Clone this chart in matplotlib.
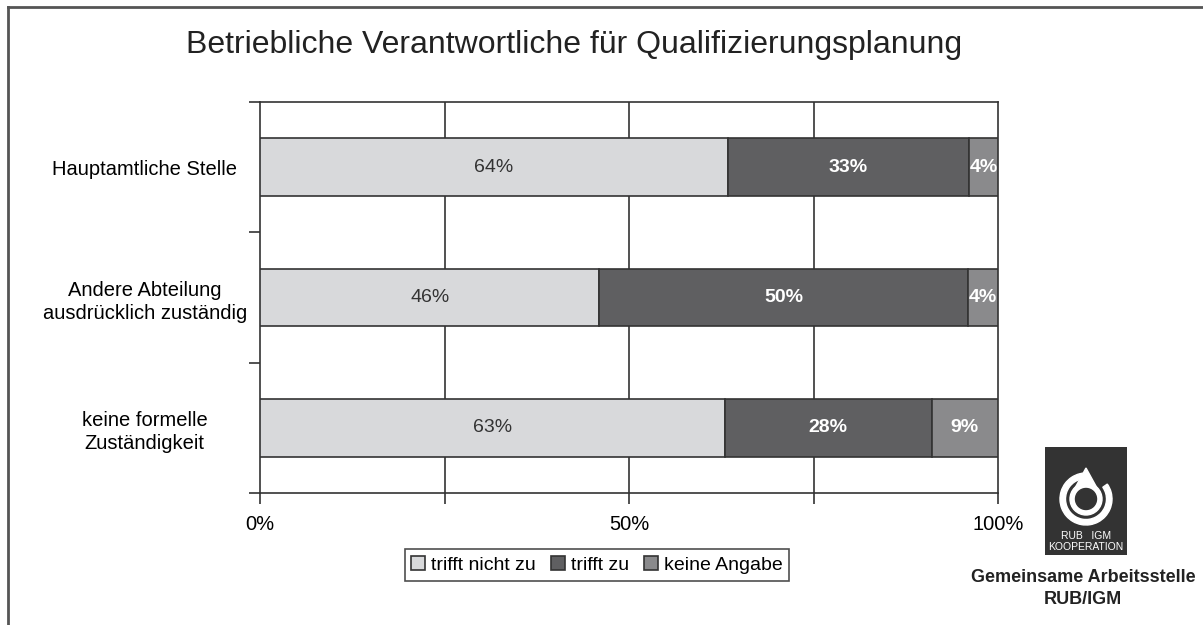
import matplotlib
matplotlib.use("Agg")
import matplotlib.pyplot as plt
from matplotlib import patches
from matplotlib.lines import Line2D
import numpy as np

plt.rcParams['font.family'] = ['Liberation Sans', 'DejaVu Sans']

# data (percent as labelled, bars are normalised to 100)
categories = ["Hauptamtliche Stelle", "Andere Abteilung\nausdrücklich zuständig", "keine formelle\nZuständigkeit"]
series_names = ["trifft nicht zu", "trifft zu", "keine Angabe"]
nicht_zu = [64, 46, 63]
trifft_zu = [33, 50, 28]
keine_angabe = [4, 4, 9]

colors = ["#d8d9db", "#5f5f61", "#8a8a8c"]
text_colors = ["#333333", "white", "white"]
text_weights = ["normal", "bold", "bold"]
edge = "#333333"

fig = plt.figure(figsize=(12.03, 6.25), dpi=100)
ax = fig.add_axes([260 / 1203, 1 - 493 / 625, 738 / 1203, 391 / 625])

data = np.array([nicht_zu, trifft_zu, keine_angabe], dtype=float)
frac = data / data.sum(axis=0)
ypos = np.arange(len(categories))

left = np.zeros(len(categories))
bars = []
for i, name in enumerate(series_names):
    b = ax.barh(ypos, frac[i], left=left, height=0.44, color=colors[i],
                edgecolor=edge, linewidth=1.2, label=name, zorder=3)
    bars.append(b)
    for j in range(len(categories)):
        ax.text(left[j] + frac[i][j] / 2, ypos[j], "%d%%" % data[i][j],
                ha="center", va="center", fontsize=14, color=text_colors[i],
                fontweight=text_weights[i], zorder=4)
    left = left + frac[i]

ax.set_xlim(0, 1)
ax.set_ylim(2.5, -0.5)

# grid at 25% steps
for g in [0.25, 0.5, 0.75]:
    ax.axvline(g, color=edge, lw=1.2, zorder=1)

ax.set_xticks([0, 0.25, 0.5, 0.75, 1.0])
ax.set_xticklabels(["0%", "", "50%", "", "100%"], fontsize=14.5)
ax.tick_params(axis="x", length=8, width=1.2, color=edge, pad=8)

ax.set_yticks(ypos)
ax.set_yticklabels(categories, fontsize=14.5)
for lbl in ax.get_yticklabels():
    lbl.set_ha("center")
    lbl.set_multialignment("center")
    lbl.set_linespacing(1.3)
ax.tick_params(axis="y", which="major", length=0, pad=83)
ax.set_yticks([-0.5, 0.5, 1.5, 2.5], minor=True)
ax.tick_params(axis="y", which="minor", length=8, width=1.2, color=edge)

for s in ax.spines.values():
    s.set_color(edge)
    s.set_linewidth(1.2)

fig.text(574.5 / 1203, 1 - 45 / 625, "Betriebliche Verantwortliche für Qualifizierungsplanung",
         ha="center", va="center", fontsize=23, color="#222222")

leg = fig.legend(handles=bars, labels=series_names, loc="center",
                 bbox_to_anchor=(597 / 1203, 1 - 565 / 625), ncol=3, fontsize=14,
                 frameon=True, fancybox=False, edgecolor="#222222",
                 handlelength=0.7, handleheight=0.7, handletextpad=0.3,
                 columnspacing=0.8, borderpad=0.35)
leg.get_frame().set_linewidth(1.2)

# outer frame (left and top)
fig.add_artist(Line2D([8 / 1203, 8 / 1203], [0, 1 - 7 / 625], transform=fig.transFigure, color="#555555", lw=2))
fig.add_artist(Line2D([8 / 1203, 1], [1 - 7 / 625, 1 - 7 / 625], transform=fig.transFigure, color="#555555", lw=2))

# logo
lax = fig.add_axes([1045 / 1203, 1 - 555 / 625, 82 / 1203, 108 / 625])
lax.set_xlim(0, 82)
lax.set_ylim(108, 0)
lax.axis("off")
lax.add_patch(patches.Rectangle((0, 0), 82, 108, color="#333333"))
cx, cy = 41, 52
lax.add_patch(patches.Wedge((cx, cy), 26, -35, 275, width=5.5, color="white"))
lax.add_patch(patches.Polygon([[cx - 11, cy - 11], [cx, cy - 31], [cx + 11, cy - 11]], color="white"))
lax.add_patch(patches.Circle((cx, cy), 16, color="white"))
lax.add_patch(patches.Circle((cx, cy), 10.5, color="#333333"))
lax.text(41, 89, "RUB   IGM", ha="center", va="center", color="white", fontsize=7.5)
lax.text(41, 100, "KOOPERATION", ha="center", va="center", color="white", fontsize=7.5)

fig.text(1083 / 1203, 1 - 578 / 625, "Gemeinsame Arbeitsstelle", ha="center", va="center",
         fontsize=13, fontweight="bold", color="#222222")
fig.text(1083 / 1203, 1 - 600 / 625, "RUB/IGM", ha="center", va="center",
         fontsize=13, fontweight="bold", color="#222222")

fig.savefig("out.png", dpi=100)
